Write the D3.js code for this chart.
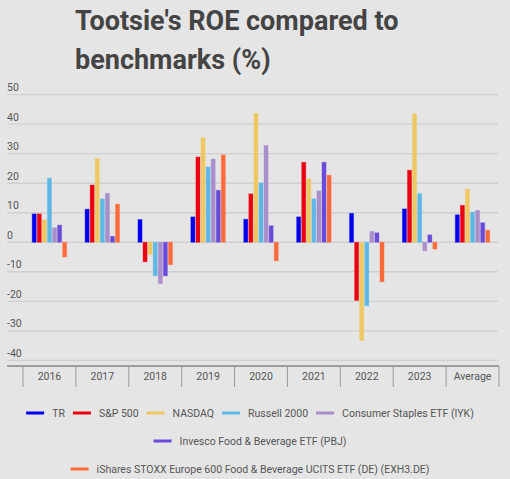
<!DOCTYPE html>
<html>
<head>
<meta charset="utf-8">
<script src="https://cdn.jsdelivr.net/npm/d3@7"></script>
<style>
  html, body { margin: 0; padding: 0; background: #e5e5e5; }
  svg { display: block; font-family: Roboto, "Noto Sans", sans-serif; }
</style>
</head>
<body>
<svg id="chart" width="510" height="479"></svg>
<script>
// categories and series (ROE, %)
const years = ['2016', '2017', '2018', '2019', '2020', '2021', '2022', '2023', 'Average']
const seriesNames = ['TR', 'S&P 500', 'NASDAQ', 'Russell 2000', 'Consumer Staples ETF (IYK)',
    'Invesco Food & Beverage ETF (PBJ)', 'iShares STOXX Europe 600 Food & Beverage UCITS ETF (DE) (EXH3.DE)']
const colors = ['#0000ef', '#ea0010', '#f0c862', '#5db8e6', '#a98fca', '#6a4bd9', '#ff6a3c']

const tr        = [9.6, 11.2, 7.7, 8.6, 7.8, 8.6, 9.8, 11.3, 9.3]
const sp500     = [9.6, 19.4, -6.6, 28.9, 16.4, 27.1, -19.7, 24.4, 12.5]
const nasdaq    = [7.6, 28.4, -4.1, 35.4, 43.7, 21.5, -33.3, 43.5, 18.0]
const russell   = [21.7, 14.7, -11.4, 25.5, 20.1, 14.7, -21.5, 16.5, 10.2]
const iyk       = [4.9, 16.6, -14.0, 28.2, 32.8, 17.4, 3.7, -2.9, 10.8]
const pbj       = [5.8, 2.0, -11.4, 17.6, 5.6, 27.1, 3.2, 2.5, 6.6]
const exh3      = [-5.0, 12.9, -7.6, 29.6, -6.3, 22.7, -13.4, -2.3, 4.1]
const yTicks = [50, 40, 30, 20, 10, 0, -10, -20, -30, -40]

const seriesValues = [tr, sp500, nasdaq, russell, iyk, pbj, exh3]

const svg = d3.select('#chart')
const textColor = '#555'

// title
const title = svg.append('text')
    .attr('x', 75)
    .attr('fill', '#444')
    .style('font-size', '27px')
    .style('font-weight', 'bold')
title.append('tspan').attr('x', 75).attr('y', 30).text("Tootsie's ROE compared to")
title.append('tspan').attr('x', 75).attr('y', 69).text('benchmarks (%)')

const x = d3.scaleBand().domain(years).range([23, 499])
const y = d3.scaleLinear().domain([-40, 50]).range([360.3, 94.7])
const inner = d3.scaleBand().domain(d3.range(seriesNames.length)).range([0, 34.5]).paddingInner(0.2)
const innerOffset = (x.bandwidth() - 34.5) / 2

// gridlines + y labels
svg.append('g').selectAll('line')
    .data(yTicks)
    .join('line')
    .attr('x1', 7).attr('x2', 498)
    .attr('y1', d => y(d)).attr('y2', d => y(d))
    .attr('stroke', '#d0d0d0')
    .attr('stroke-width', 1.3)

svg.append('g').selectAll('text')
    .data(yTicks)
    .join('text')
    .attr('x', 7)
    .attr('y', d => y(d) - 3.5)
    .attr('fill', textColor)
    .style('font-size', '10.5px')
    .text(d => d)

// bars
const groups = svg.append('g').selectAll('g')
    .data(years)
    .join('g')
    .attr('transform', d => `translate(${x(d) + innerOffset},0)`)

groups.selectAll('rect')
    .data((d, i) => seriesValues.map((s, k) => ({ k: k, v: s[i] })))
    .join('rect')
    .attr('x', d => inner(d.k))
    .attr('width', inner.bandwidth())
    .attr('y', d => y(Math.max(0, d.v)))
    .attr('height', d => Math.abs(y(d.v) - y(0)))
    .attr('fill', d => colors[d.k])
    .attr('stroke', d => colors[d.k])
    .attr('stroke-opacity', 0.35)
    .attr('stroke-width', 1)

// x axis
const axisY = 366
svg.append('line')
    .attr('x1', 7).attr('x2', 499)
    .attr('y1', axisY).attr('y2', axisY)
    .attr('stroke', '#555').attr('stroke-width', 1.2)

const bounds = years.map(d => x(d)).concat([x.range()[1]])
svg.append('g').selectAll('line')
    .data(bounds)
    .join('line')
    .attr('x1', d => d).attr('x2', d => d)
    .attr('y1', axisY).attr('y2', 387)
    .attr('stroke', '#999').attr('stroke-width', 1)

svg.append('g').selectAll('text')
    .data(years)
    .join('text')
    .attr('x', d => x(d) + x.bandwidth() / 2)
    .attr('y', 379.5)
    .attr('text-anchor', 'middle')
    .attr('fill', textColor)
    .style('font-size', '10.5px')
    .text(d => d)

// legend, wrapped and centred
const legend = svg.append('g')
const swatchW = 18, gapText = 8, gapItem = 8, maxRow = 470, legendCenter = 250
const rowsY = [413, 441, 469]
const items = seriesNames.map((name, k) => {
    const g = legend.append('g')
    g.append('line')
        .attr('x1', 0).attr('x2', swatchW)
        .attr('stroke', colors[k]).attr('stroke-width', 3)
    const t = g.append('text')
        .attr('x', swatchW + gapText)
        .attr('y', 3.8)
        .attr('fill', textColor)
        .style('font-size', '10.5px')
        .text(name)
    return { g: g, w: swatchW + gapText + t.node().getComputedTextLength() }
})

let rows = [[]], rowW = 0
items.forEach(it => {
    const add = (rows[rows.length - 1].length ? gapItem : 0) + it.w
    if (rowW + add > maxRow && rows[rows.length - 1].length) {
        rows.push([it]); rowW = it.w
    } else {
        rows[rows.length - 1].push(it); rowW += add
    }
})
rows.forEach((row, r) => {
    const total = d3.sum(row, d => d.w) + gapItem * (row.length - 1)
    let cx = legendCenter - total / 2
    row.forEach(it => {
        it.g.attr('transform', `translate(${cx},${rowsY[r]})`)
        cx += it.w + gapItem
    })
})
</script>
</body>
</html>
